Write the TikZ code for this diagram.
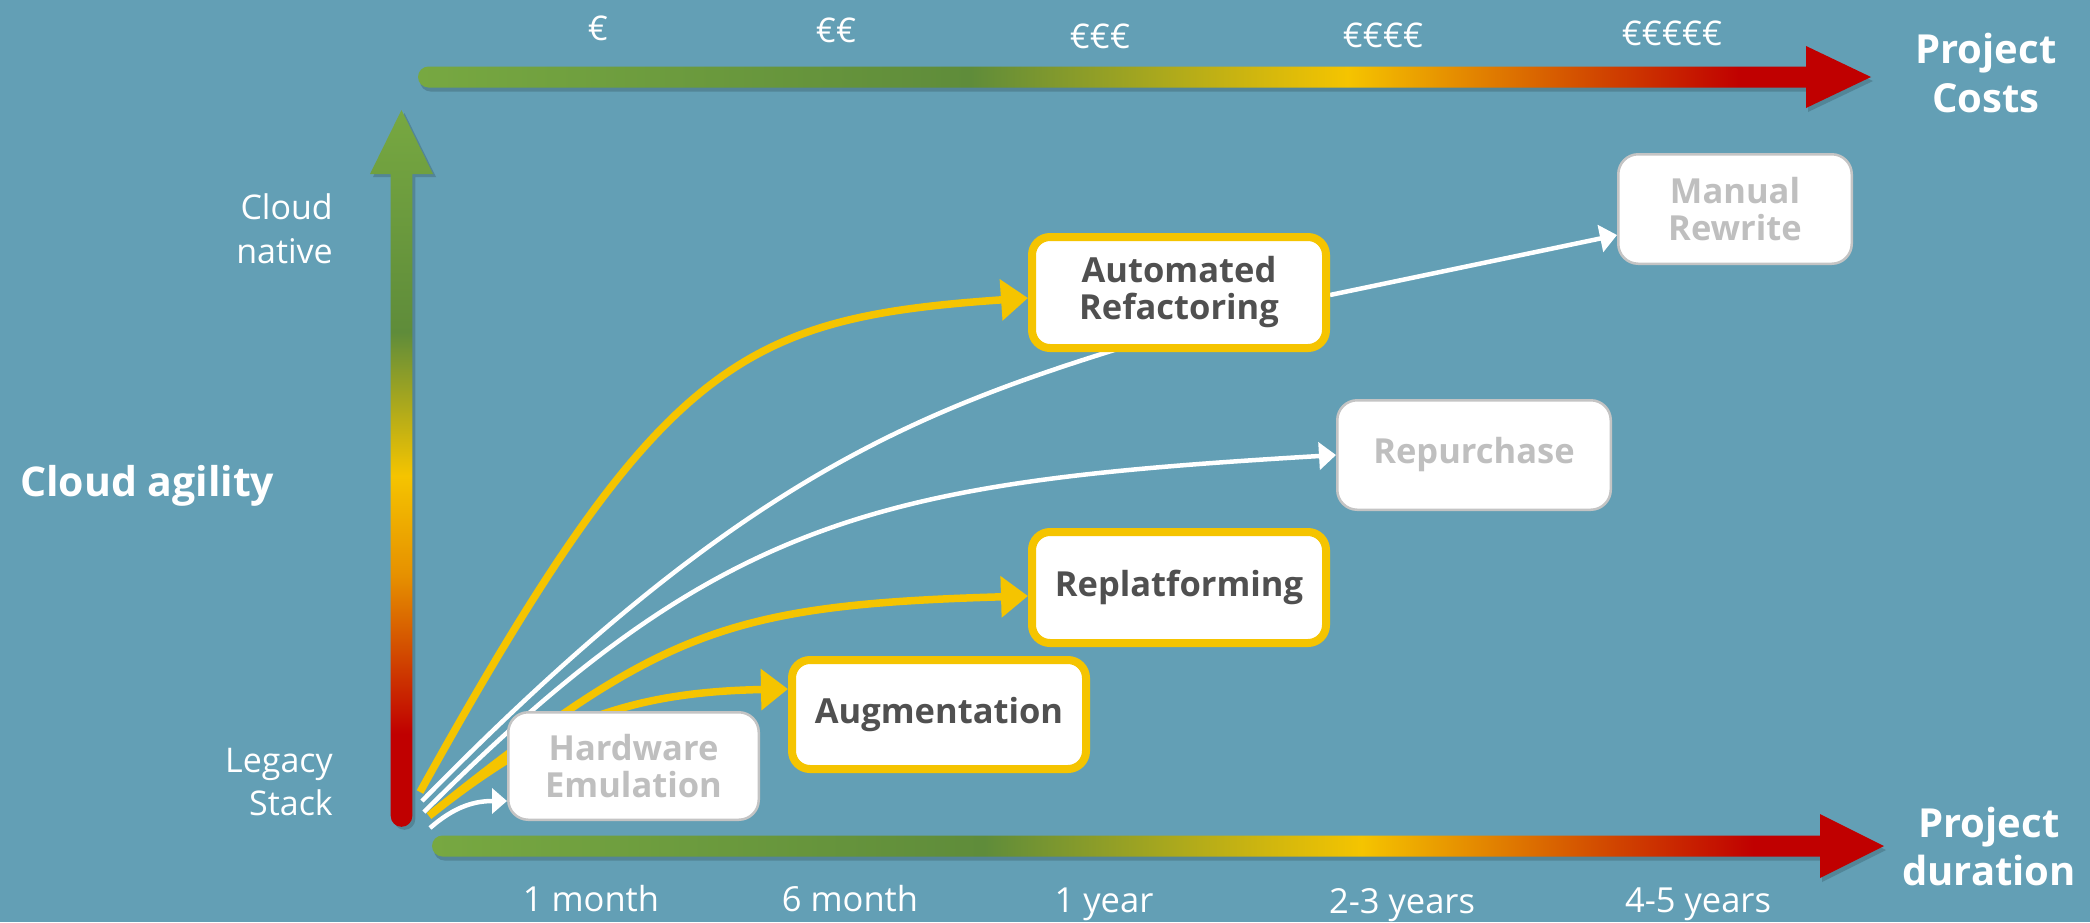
\documentclass[tikz,border=0pt]{standalone}
\usepackage{fontspec}
\setmainfont{Open Sans}
\usetikzlibrary{arrows.meta}
\definecolor{bgc}{HTML}{639FB5}
\definecolor{yel}{HTML}{F5C400}
\definecolor{txtdark}{HTML}{505050}
\definecolor{txtgrey}{HTML}{BFBFBF}
\definecolor{boxgrey}{HTML}{C4C4C4}
\definecolor{ag1}{HTML}{77A841}
\definecolor{ag2}{HTML}{5F8C3A}
\definecolor{ay}{HTML}{F5C400}
\definecolor{ao}{HTML}{E69000}
\definecolor{aro}{HTML}{D34F00}
\definecolor{axr}{HTML}{C00000}
\pgfdeclarehorizontalshading{costshade}{100bp}{color(0bp)=(ag1); color(25bp)=(ag1); color(44bp)=(ag2); color(57bp)=(ay); color(60.5bp)=(ao); color(65bp)=(aro); color(70.5bp)=(axr); color(100bp)=(axr)}
\pgfdeclareverticalshading{agileshade}{100bp}{color(0bp)=(axr); color(31.5bp)=(axr); color(37.5bp)=(aro); color(42.5bp)=(ao); color(49.5bp)=(ay); color(59.5bp)=(ag2); color(75bp)=(ag1); color(100bp)=(ag1)}
\pgfdeclarelayer{back}
\pgfsetlayers{back,main}
\tikzset{
 ybox/.style={draw=yel, line width=8pt, fill=white, rounded corners=18pt, text=txtdark, font=\bfseries\fontsize{34.5}{37}\selectfont, align=center, inner sep=0pt, minimum width=294pt, minimum height=111pt},
 gbox/.style={draw=boxgrey, line width=2.5pt, fill=white, rounded corners=20pt, text=txtgrey, font=\bfseries\fontsize{34.5}{37}\selectfont, align=center, inner sep=0pt},
 yconn/.style={draw=yel, line width=7.5pt, -{Triangle[length=27pt,width=40pt]}},
 wconn/.style={draw=white, line width=4.5pt, -{Triangle[length=17pt,width=27pt]}},
 wplain/.style={draw=white, line width=4.5pt},
 lbl/.style={text=white, font=\fontsize{34}{40}\selectfont, inner sep=0pt},
 tlbl/.style={text=white, font=\fontsize{34.5}{40}\selectfont, inner sep=0pt, anchor=base},
 blbl/.style={text=white, font=\bfseries\fontsize{40}{48}\selectfont, inner sep=0pt},
 axshadow/.style={fill=black, opacity=.16},
}
\begin{document}
\begin{tikzpicture}[x=1pt,y=-1pt]
\useasboundingbox (0,0) rectangle (2090,922);
\begin{pgfonlayer}{back}
\fill[bgc] (0,0) rectangle (2090,922);
% shadows
\fill[axshadow,shift={(2,4)}] (428.5,66.5) -- (1806,66.5) -- (1806,46) -- (1871,77) -- (1806,108) -- (1806,87.5) -- (428.5,87.5) arc[start angle=90,end angle=270,radius=10.5] -- cycle;
\fill[axshadow,shift={(3,3)}] (390.7,174) -- (370,174) -- (401.5,110) -- (433,174) -- (412.3,174) -- (412.3,816) arc[start angle=0,end angle=180,radius=10.8] -- cycle;
\fill[axshadow,shift={(2,4)}] (442.5,835.5) -- (1820,835.5) -- (1820,814) -- (1884,846) -- (1820,878) -- (1820,856.5) -- (442.5,856.5) arc[start angle=90,end angle=270,radius=10.5] -- cycle;
% axes
\shade[shading=costshade] (428.5,66.5) -- (1806,66.5) -- (1806,46) -- (1871,77) -- (1806,108) -- (1806,87.5) -- (428.5,87.5) arc[start angle=90,end angle=270,radius=10.5] -- cycle;
\shade[shading=agileshade] (390.7,174) -- (370,174) -- (401.5,110) -- (433,174) -- (412.3,174) -- (412.3,816) arc[start angle=0,end angle=180,radius=10.8] -- cycle;
\shade[shading=costshade] (442.5,835.5) -- (1820,835.5) -- (1820,814) -- (1884,846) -- (1820,878) -- (1820,856.5) -- (442.5,856.5) arc[start angle=90,end angle=270,radius=10.5] -- cycle;
\end{pgfonlayer}

% axis labels
\node[lbl, anchor=base] (e1) at (598,40) {€};
\node[lbl, anchor=base] (e2) at (836,42) {€€};
\node[lbl, anchor=base] (e3) at (1100,48) {€€€};
\node[lbl, anchor=base] (e4) at (1383,47) {€€€€};
\node[lbl, anchor=base] (e5) at (1672,45) {€€€€€};
\node[blbl, anchor=base] (pc1) at (1986,63) {Project};
\node[blbl, anchor=base] (pc2) at (1986,112) {Costs};
\node[blbl, anchor=base] (pd1) at (1989,837) {Project};
\node[blbl, anchor=base] (pd2) at (1989,885) {duration};
\node[tlbl] (t1) at (591,911) {1 month};
\node[tlbl] (t2) at (850,911) {6 month};
\node[tlbl] (t3) at (1104,912) {1 year};
\node[tlbl] (t4) at (1402,913) {2-3 years};
\node[tlbl] (t5) at (1698,912) {4-5 years};
\node[lbl, anchor=base east] (cn1) at (333,219) {Cloud};
\node[lbl, anchor=base east] (cn2) at (333,263) {native};
\node[lbl, anchor=base east] (ls1) at (333,772) {Legacy};
\node[lbl, anchor=base east] (ls2) at (333,815) {Stack};
\node[text=white, font=\bfseries\fontsize{41}{48}\selectfont, inner sep=0pt, anchor=base west] (ca) at (20,496) {Cloud agility};

% boxes
\node[ybox] (ar) at (1179,292.5) {Automated\\Refactoring};
\node[ybox] (re) at (1179,587.5) {Replatforming};
\node[ybox, minimum height=109pt] (au) at (939,714.5) {Augmentation};
\node[gbox, minimum width=250.5pt, minimum height=107.5pt] (hw) at (633.5,766) {Hardware\\Emulation};
\node[gbox, minimum width=273.5pt, minimum height=109.5pt] (rp) at (1474,455) {Repurchase};
\node[gbox, minimum width=233.5pt, minimum height=109.5pt] (mr) at (1735,209) {Manual\\Rewrite};

% connectors
\begin{pgfonlayer}{back}
\coordinate (s1) at (420,792);
\coordinate (s2) at (422,801);
\coordinate (s3) at (424,812);
\coordinate (s4) at (431,814);
\coordinate (s5) at (429,816);
\coordinate (s6) at (430,828);
\coordinate (arin) at (1180,330);
\draw[yconn] (s1) .. controls (660,360) and (740,318) .. ([yshift=-5.5pt]ar.west);
\draw[wplain] (s2) .. controls (752,464) and (930,405) .. (arin);
\draw[wconn] (s3) .. controls (724,512) and (884,482) .. (rp.west);
\draw[yconn] (s4) .. controls (661,630) and (726,605) .. ([yshift=-8.5pt]re.west);
\draw[yconn] (s5) .. controls (549,720) and (634,692) .. ([yshift=25.5pt]au.west);
\draw[draw=white, line width=4.5pt, -{Triangle[length=15pt,width=25pt]}] (s6) .. controls (455,806) and (475,801) .. ([yshift=-35pt]hw.west);
\draw[wconn] ([yshift=-2.5pt]ar.east) -- ([yshift=-26pt]mr.west);
\end{pgfonlayer}
\end{tikzpicture}
\end{document}
